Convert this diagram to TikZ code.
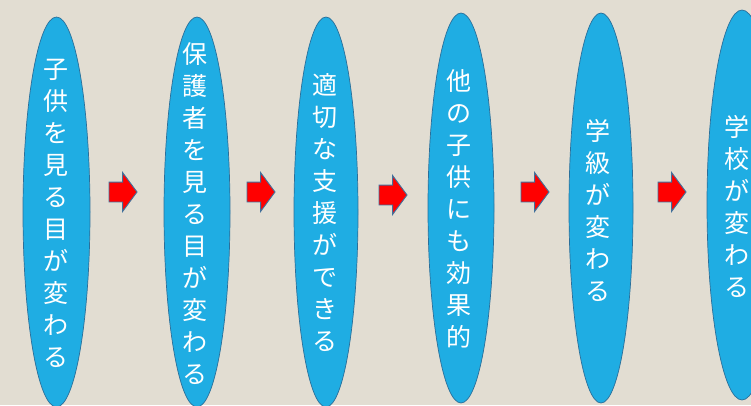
\documentclass[tikz,border=0pt]{standalone}
\usepackage{fontspec}
\newfontfamily\cjk{Noto Sans CJK JP}
\usetikzlibrary{shapes.geometric,shapes.arrows}
\definecolor{bgc}{HTML}{E2DDD2}
\definecolor{bubfill}{HTML}{1FADE3}
\definecolor{bubline}{HTML}{2A6F9A}
\definecolor{arrline}{HTML}{41719C}
\tikzset{
  bubble/.style={ellipse, draw=bubline, fill=bubfill, line width=0.7pt, inner sep=0pt},
  vtext/.style={text=white, align=center, inner sep=0pt, font={\cjk\fontsize{25}{32}\selectfont}},
  redarrow/.style={single arrow, draw=arrline, fill=red, line width=0.9pt, inner xsep=0pt, inner ysep=9.5pt,
    outer sep=0pt, anchor=west,
    minimum height=28pt, single arrow head extend=9.5pt,
    single arrow tip angle=107},
}
\begin{document}
\begin{tikzpicture}[x=1pt,y=-1pt]
\fill[bgc] (0,0) rectangle (751,405);
\useasboundingbox (0,0) rectangle (751,405);
\node[bubble, minimum width=67pt, minimum height=390pt] (e1) at (56.5,212) {};
\node[bubble, minimum width=66pt, minimum height=390pt] (e2) at (197,212) {};
\node[bubble, minimum width=64pt, minimum height=390pt] (e3) at (326,212) {};
\node[bubble, minimum width=66pt, minimum height=390pt] (e4) at (461,208) {};
\node[bubble, minimum width=64pt, minimum height=390pt] (e5) at (601,208) {};
\node[bubble, minimum width=70pt, minimum height=390pt] (e6) at (742,205) {};
\node[vtext] (t1) at (56,213) {子\\供\\を\\見\\る\\目\\が\\変\\わ\\る};
\node[vtext] (t2) at (195,214) {保\\護\\者\\を\\見\\る\\目\\が\\変\\わ\\る};
\node[vtext] (t3) at (325,213) {適\\切\\な\\支\\援\\が\\で\\き\\る};
\node[vtext] (t4) at (459,209) {他\\の\\子\\供\\に\\も\\効\\果\\的};
\node[vtext] (t5) at (598,210) {学\\級\\が\\変\\わ\\る};
\node[vtext] (t6) at (737,206) {学\\校\\が\\変\\わ\\る};
\node[redarrow] (a1) at (109,192) {};
\node[redarrow] (a2) at (247,192) {};
\node[redarrow] (a3) at (379,195) {};
\node[redarrow] (a4) at (521,192) {};
\node[redarrow] (a5) at (658,192) {};
\end{tikzpicture}
\end{document}
